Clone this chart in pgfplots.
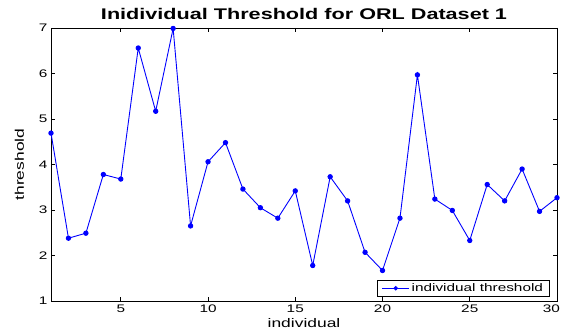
\documentclass[border=0pt]{standalone}
\usepackage{pgfplots}
\pgfplotsset{compat=1.18}
\usepackage{fontspec}
\setmainfont{Liberation Sans}[FakeStretch=1.4]
\begin{document}
\begin{tikzpicture}
\begin{axis}[
  name=ax,
  scale only axis,
  width=506bp, height=273bp,
  xmin=1, xmax=30, ymin=1, ymax=7,
  xtick={5,10,15,20,25,30},
  xticklabels={5,10,15,20,25,\makebox[6bp][r]{30}},
  ytick={1,2,3,4,5,6,7},
  tick align=inside,
  major tick length=4bp,
  tick style={black, line width=0.6pt},
  axis line style={black, line width=0.8pt},
  /pgf/number format/assume math mode=true,
  tick label style={font=\fontsize{11}{13}\selectfont},
  title={\textbf{Inidividual Threshold for ORL Dataset 1}},
  title style={font=\fontsize{15.5}{17}\selectfont, yshift=-1bp},
  xlabel={individual},
  ylabel={threshold},
  label style={font=\fontsize{12.5}{14}\selectfont},
  xlabel style={yshift=1bp},
  ylabel style={yshift=8bp},
  legend style={at={(0.985,0.015)}, anchor=south east, draw=black, line width=0.8pt,
    font=\fontsize{11}{13}\selectfont, inner xsep=4bp, inner ysep=1.5bp, row sep=0pt,
    legend cell align=left},
  legend image code/.code={\draw[#1, line width=0.9pt] (0bp,0bp) -- (27bp,0bp); \fill[blue] (13.5bp,0bp) circle (1.8bp);},
]
\addplot[blue, line width=0.9pt, mark=*, mark size=2.2bp, mark options={fill=blue, draw=blue}] coordinates {
(1,4.69) (2,2.38) (3,2.49) (4,3.78) (5,3.68) (6,6.56) (7,5.17) (8,6.99)
(9,2.65) (10,4.06) (11,4.48) (12,3.46) (13,3.05) (14,2.82) (15,3.42)
(16,1.78) (17,3.73) (18,3.20) (19,2.07) (20,1.67) (21,2.82) (22,5.97)
(23,3.24) (24,2.99) (25,2.33) (26,3.56) (27,3.20) (28,3.90) (29,2.97) (30,3.27)
};
\addlegendentry{individual threshold}
\end{axis}
\pgfresetboundingbox
\path (ax.south west) ++(-51bp,-34bp) coordinate (bl);
\path (ax.north east) ++(4bp,28bp) coordinate (tr);
\useasboundingbox (bl) rectangle (tr);
\end{tikzpicture}
\end{document}
